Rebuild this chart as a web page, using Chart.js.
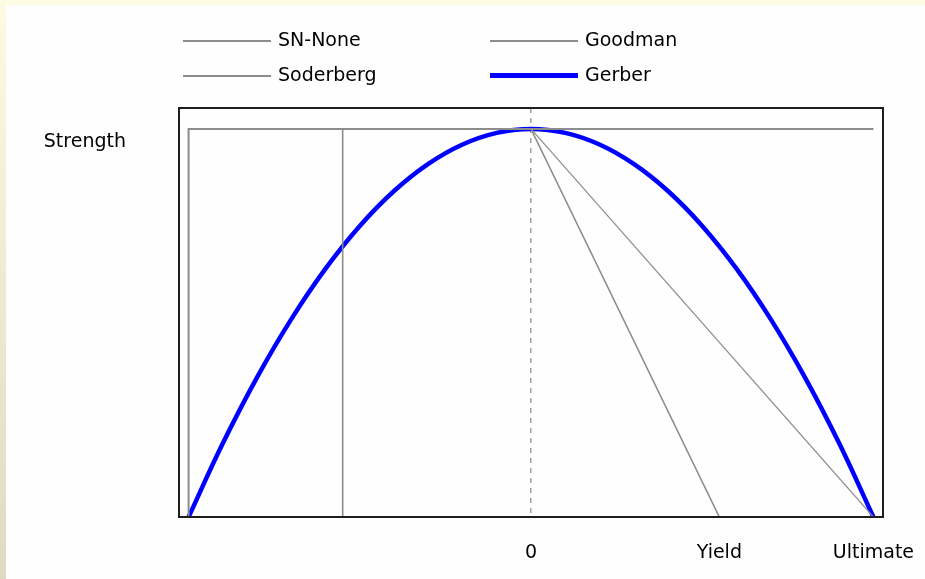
<!DOCTYPE html>
<html>
<head>
<meta charset="utf-8">
<script src="https://cdn.jsdelivr.net/npm/chart.js@4"></script>
<style>
    body { margin: 0; width: 925px; height: 579px; overflow: hidden; background: #fefde4; font-family: "DejaVu Sans", sans-serif; }
    .side { position: absolute; left: 0; top: 5px; width: 6px; height: 574px; background: linear-gradient(#fcfae0, #dedac6); }
    .panel { position: absolute; left: 6px; top: 5px; width: 919px; height: 574px; background: #fefefe; }
    .legend { position: absolute; font-size: 19px; color: #000; }
    .legend .item { position: absolute; white-space: nowrap; height: 22px; line-height: 22px; }
    .legend .swatch { display: inline-block; width: 88px; vertical-align: middle; margin-right: 7px; }
</style>
</head>
<body>
<div class="side"></div>
<div class="panel">
    <canvas id="strengthChart"></canvas>
</div>
<div class="legend" id="legend"></div>
<script>
// mean stress as a fraction of ultimate strength, strength as a fraction of Se
const xTickValues = [0, 0.55, 1];
const xTickLabels = ['0', 'Yield', 'Ultimate'];
const yTickValues = [1];
const yTickLabels = ['Strength'];

const snNoneX = [-1, -1, 1];
const snNoneY = [0, 1, 1];
const goodmanX = [0, 1];
const goodmanY = [1, 0];
const soderbergX = [-0.55, -0.55, 0, 0.55];
const soderbergY = [0, 1, 1, 0];
const gerberX = [-1, -0.9, -0.8, -0.7, -0.6, -0.5, -0.4, -0.3, -0.2, -0.1, 0, 0.1, 0.2, 0.3, 0.4, 0.5, 0.6, 0.7, 0.8, 0.9, 1];
const gerberY = [0, 0.19, 0.36, 0.51, 0.64, 0.75, 0.84, 0.91, 0.96, 0.99, 1, 0.99, 0.96, 0.91, 0.84, 0.75, 0.64, 0.51, 0.36, 0.19, 0];

function toPoints(xs, ys) {
    return xs.map((x, i) => ({ x: x, y: ys[i] }));
}

const grey = '#8c8c8c';

const frameBox = {
    id: 'frameBox',
    afterDraw(chart) {
        const a = chart.chartArea;
        const ctx = chart.ctx;
        ctx.save();
        ctx.strokeStyle = '#1e1e1e';
        ctx.lineWidth = 2;
        ctx.strokeRect(a.left, a.top, a.right - a.left, a.bottom - a.top);
        ctx.restore();
    }
};

const ctx = document.getElementById('strengthChart');
const chart = new Chart(ctx, {
    type: 'scatter',
    data: {
        datasets: [
            { label: 'SN-None', data: toPoints(snNoneX, snNoneY), borderColor: grey, borderWidth: 2, legendCol: 0, legendRow: 0 },
            { label: 'Goodman', data: toPoints(goodmanX, goodmanY), borderColor: grey, borderWidth: 1.2, legendCol: 1, legendRow: 0 },
            { label: 'Soderberg', data: toPoints(soderbergX, soderbergY), borderColor: grey, borderWidth: 1.6, legendCol: 0, legendRow: 1 },
            { label: 'Gerber', data: toPoints(gerberX, gerberY), borderColor: '#0000ff', borderWidth: 4.5, tension: 0.4, legendCol: 1, legendRow: 1 }
        ].map(ds => Object.assign({ showLine: true, pointRadius: 0, fill: false, backgroundColor: ds.borderColor }, ds))
    },
    options: {
        responsive: true,
        maintainAspectRatio: false,
        animation: false,
        layout: { padding: { top: 103, right: 42, left: 0, bottom: 0 } },
        plugins: {
            legend: { display: false },
            tooltip: { enabled: false }
        },
        scales: {
            x: {
                type: 'linear',
                min: -1.028,
                max: 1.028,
                afterBuildTicks: axis => { axis.ticks = xTickValues.map(v => ({ value: v })); },
                afterFit: axis => {
                    axis.height = 62;
                    axis.paddingLeft = 0;
                    axis.paddingRight = 0;
                },
                ticks: {
                    color: '#000',
                    font: { family: 'DejaVu Sans', size: 19 },
                    padding: 25,
                    maxRotation: 0,
                    autoSkip: false,
                    callback: (v, i) => xTickLabels[i]
                },
                grid: {
                    drawTicks: false,
                    color: c => (c.tick && c.tick.value === 0 ? '#a0a0a0' : 'rgba(0,0,0,0)'),
                    lineWidth: 1.5
                },
                border: { display: false, dash: [5, 5] }
            },
            y: {
                type: 'linear',
                min: 0,
                max: 1.054,
                afterBuildTicks: axis => { axis.ticks = yTickValues.map(v => ({ value: v })); },
                afterFit: axis => {
                    axis.width = 173;
                    axis.paddingTop = 0;
                    axis.paddingBottom = 0;
                },
                ticks: {
                    color: '#000',
                    font: { family: 'DejaVu Sans', size: 19 },
                    padding: 53,
                    labelOffset: 13,
                    callback: (v, i) => yTickLabels[i]
                },
                grid: { display: false, drawTicks: false },
                border: { display: false }
            }
        }
    },
    plugins: [frameBox]
});

// legend, built from the datasets
const legendEl = document.getElementById('legend');
const colLeft = [183, 490];
const rowTop = [28, 63];
chart.data.datasets.forEach(ds => {
    const item = document.createElement('div');
    item.className = 'item';
    item.style.left = colLeft[ds.legendCol] + 'px';
    item.style.top = rowTop[ds.legendRow] + 'px';
    const sw = document.createElement('span');
    sw.className = 'swatch';
    sw.style.borderTop = Math.max(2, Math.round(ds.borderWidth)) + 'px solid ' + ds.borderColor;
    item.appendChild(sw);
    item.appendChild(document.createTextNode(ds.label));
    legendEl.appendChild(item);
});
</script>
</body>
</html>
